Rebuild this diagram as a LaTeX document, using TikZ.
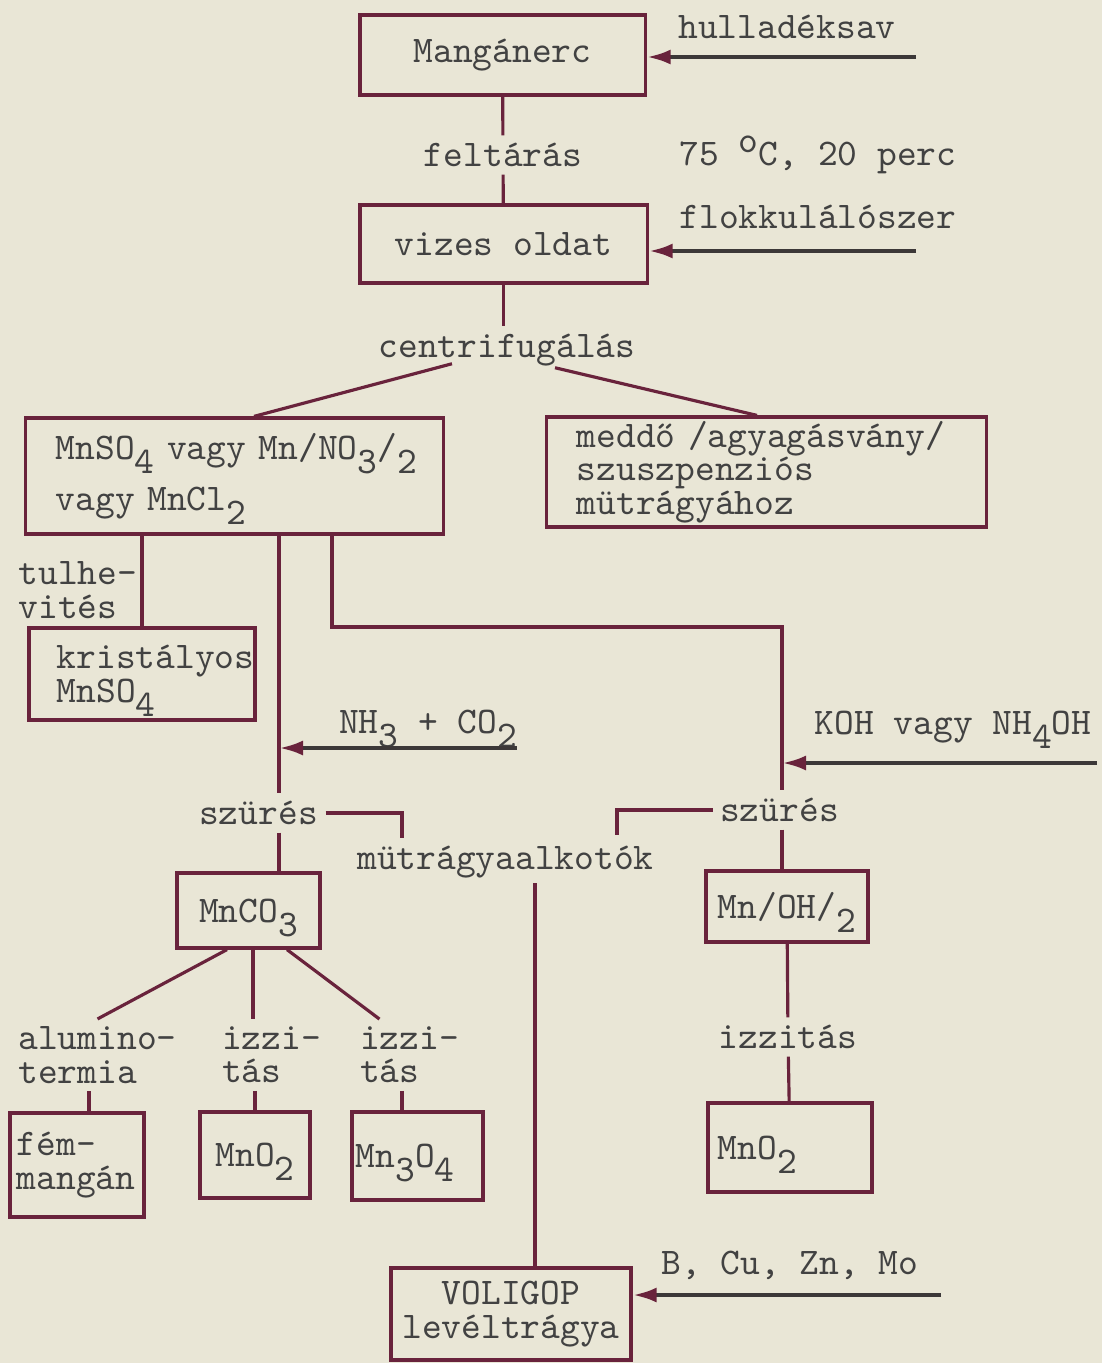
\documentclass[tikz,border=0pt]{standalone}
\usepackage{fontspec}
\usepackage{tikz}
\usetikzlibrary{arrows.meta,positioning,calc}
\definecolor{inkred}  {RGB}{105,35,60}
\definecolor{inkgray} {RGB}{60,56,56}
\definecolor{typegray}{RGB}{66,66,66}
\definecolor{paper}   {RGB}{233,230,214}
\newcommand{\twfont}{\ttfamily\fontsize{10.7}{9.5}\selectfont\lineskiplimit=-100pt\relax}
\newcommand{\dn}[1]{\smash{\raisebox{-4pt}{#1}}}

\begin{document}
\begin{tikzpicture}[
  x=0.01cm, y=-0.01cm,
  >={Latex[length=2.4mm,width=1.5mm,color=inkred]},
  box/.style={draw=inkred, line width=0.9pt, text=typegray, font=\twfont, inner sep=0pt},
  lbox/.style 2 args={box, align=left, inner xsep=#1, text width=#2},
  lbl/.style={text=typegray, font=\twfont, inner sep=2pt},
  ln/.style={draw=inkred, line width=0.9pt},
  feed/.style={draw=inkgray, line width=1.2pt, ->},
]
\useasboundingbox (0,0) rectangle (1102,1363);
\fill[paper] (0,0) rectangle (1102,1363);

% Boxes
\node[box, minimum width=2.85cm, minimum height=0.80cm] (erc) at (502.5,55) {Mangánerc};
\node[box, minimum width=2.87cm, minimum height=0.78cm] (vizes) at (503.5,244) {vizes oldat};
\node[lbox={0.3cm}{3.57cm}, minimum height=1.16cm] (mnso) at (234.5,476)
  {MnSO\dn{4}~vagy~Mn/NO\dn{3}/\dn{2}\\[5pt]vagy~MnCl\dn{2}};
\node[lbox={0.3cm}{3.79cm}, minimum height=1.10cm] (medd) at (766.5,472)
  {meddő~/agyagásvány/\\szuszpenziós\\mütrágyához};
\node[lbox={0.28cm}{1.70cm}, minimum height=0.92cm] (krist) at (142,674) {kristályos\\MnSO\dn{4}};
\node[box, minimum width=1.43cm, minimum height=0.75cm] (mnco) at (248.5,910.5) {MnCO\dn{3}};
\node[box, minimum width=1.62cm, minimum height=0.71cm] (mnoh) at (787,906.5) {Mn/OH/\dn{2}};
\node[lbox={0.07cm}{1.20cm}, minimum height=1.04cm] (fem) at (77,1165) {fém-\\mangán};
\node[box, minimum width=1.10cm, minimum height=0.86cm] (mnoa) at (255,1155) {MnO\dn{2}};
\node[lbox={0.04cm}{1.23cm}, minimum height=0.88cm] (mnob) at (417.5,1156) {Mn\dn{3}O\dn{4}};
\node[lbox={0.1cm}{1.44cm}, minimum height=0.89cm] (mnoc) at (790,1147.5) {MnO\dn{2}};
\node[box, minimum width=2.40cm, minimum height=0.92cm, align=center] (volig) at (511,1314)
  {VOLIGOP\\levéltrágya};

% Labels
\node[lbl] (hulla) at (787,27) {hulladéksav};
\node[lbl] (feltaras) at (503,155) {feltárás};
\node[lbl] (cond) at (818,155) {75 \raisebox{0.8ex}{o}C, 20 perc};
\node[lbl] (flokk) at (818,217) {flokkulálószer};
\node[lbl] (centr) at (507,350) {centrifugálás};
\node[lbl, align=left, anchor=west] (tulhe) at (11,590) {tulhe-\\vités};
\node[lbl] (nhco) at (428,722) {NH\dn{3} + CO\dn{2}};
\node[lbl] (koh) at (953,727) {KOH vagy NH\dn{4}OH};
\node[lbl] (szura) at (258.5,813) {szürés};
\node[lbl] (szurb) at (779.5,810) {szürés};
\node[lbl] (mutr) at (505.5,862) {mütrágyaalkotók};
\node[lbl, align=left] (alum) at (97.5,1055) {alumino-\\termia};
\node[lbl, align=left] (izza) at (271.5,1055) {izzi-\\tás};
\node[lbl, align=left] (izzb) at (409.5,1055) {izzi-\\tás};
\node[lbl] (izzr) at (788,1037) {izzitás};
\node[lbl] (micro) at (790,1265) {B, Cu, Zn, Mo};

% Branch points
\coordinate (cbr) at (279,534);
\coordinate (rbr) at (332,534);
\coordinate (rcor) at (782,627);
\coordinate (mla) at (402,838);
\coordinate (mlb) at (617,835);
\coordinate (mdn) at (535,883);
\coordinate (fa) at ([xshift=0.045cm]mnco.south);
\coordinate (fb) at ([xshift=0.12cm]fem.north);
\coordinate (fc) at (402,1112);

% Feeds
\coordinate (hin) at (916,57);   \draw[feed] (hin) -- (hin -| erc.east);
\coordinate (fin) at (916,251);  \draw[feed] (fin) -- (fin -| vizes.east);
\coordinate (nin) at (517,748);  \draw[feed] (nin) -- (nin -| cbr);
\coordinate (kin) at (1097,763); \draw[feed] (kin) -- (kin -| rcor);
\coordinate (bin) at (941,1295); \draw[feed] (bin) -- (bin -| volig.east);

% Main line
\draw[ln] (erc) -- (feltaras);
\draw[ln] (feltaras) -- (vizes);
\draw[ln] (vizes.south) -- (vizes.south |- centr.north);
\draw[ln] ([xshift=-0.55cm,yshift=0.1cm]centr.south) -- ([xshift=0.195cm]mnso.north);
\draw[ln] ([xshift=0.48cm,yshift=0.06cm]centr.south) -- ([xshift=-0.095cm]medd.north);

% Left branch
\draw[ln] (krist.north |- mnso.south) -- (krist.north);
\draw[ln] (cbr) -- (cbr |- szura.north);
\draw[ln] (cbr |- szura.south) -- (cbr |- mnco.north);
\draw[ln] (szura.east) -| (mla);

% Right branch
\draw[ln] (rbr) |- (rcor) -- (rcor |- szurb.north);
\draw[ln] (rcor |- szurb.south) -- (rcor |- mnoh.north);
\draw[ln] (szurb.west) -| (mlb);
\draw[ln] (mnoh) -- (izzr);
\draw[ln] (izzr) -- (mnoc);

% Fertiliser line
\draw[ln] (mdn) -- (mdn |- volig.north);

% MnCO3 fan
\draw[ln] ([xshift=-0.215cm]mnco.south) -- (alum.north);
\draw[ln] (fa) -- (fa |- izza.north);
\draw[ln] ([xshift=0.385cm]mnco.south) -- ([xshift=-0.3cm]izzb.north);
\draw[ln] (fb |- alum.south) -- (fb);
\draw[ln] (mnoa.north |- izza.south) -- (mnoa.north);
\draw[ln] (fc |- izzb.south) -- (fc);

\end{tikzpicture}
\end{document}
